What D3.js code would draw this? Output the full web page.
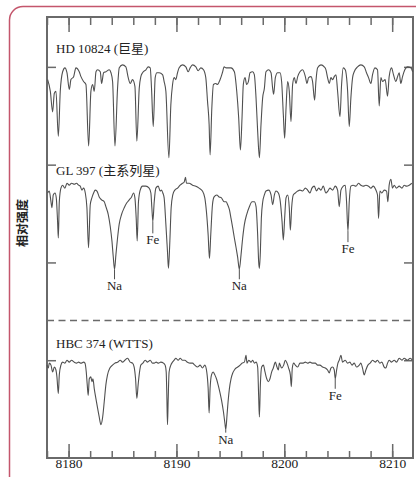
<!DOCTYPE html>
<html>
<head>
<meta charset="utf-8">
<script src="https://cdn.jsdelivr.net/npm/d3@7"></script>
<style>
  html, body { margin: 0; padding: 0; background: #fff; }
  svg { display: block; }
  .serif { font-family: "Liberation Serif", "Noto Sans CJK SC", serif; fill: #222; }
</style>
</head>
<body>
<div id="chart"></div>
<script>
// spectra: [wavelength (Å), relative intensity incl. offset]
const hd10824 = [
  [8178.06,3.87],[8178.31,3.75],[8178.52,3.54],[8178.68,3.73],[8178.83,3.75],[8179.05,3.29],[8179.23,3.75],
  [8179.45,3.95],[8179.66,3.99],[8179.85,3.94],[8180.07,3.77],[8180.22,3.87],[8180.47,3.90],[8180.68,3.99],
  [8180.99,3.95],[8181.15,3.90],[8181.39,3.85],[8181.61,3.82],[8181.86,3.19],[8182.07,3.75],[8182.23,3.82],
  [8182.38,3.75],[8182.54,3.95],[8182.69,3.97],[8182.94,3.95],[8183.06,3.83],[8183.25,3.94],[8183.46,3.95],
  [8183.77,3.97],[8183.93,3.94],[8184.08,3.85],[8184.30,3.19],[8184.54,3.78],[8184.70,3.99],[8185.00,4.02],
  [8185.31,4.00],[8185.53,3.89],[8185.72,3.83],[8185.93,3.87],[8186.15,3.80],[8186.33,3.24],[8186.55,3.78],
  [8186.70,3.90],[8186.86,3.94],[8187.17,3.97],[8187.38,4.00],[8187.57,3.99],[8187.69,3.78],[8187.85,3.39],
  [8188.03,3.89],[8188.19,3.94],[8188.40,3.94],[8188.71,3.92],[8188.86,3.85],[8189.02,3.75],[8189.30,3.07],
  [8189.48,3.61],[8189.64,3.82],[8189.79,3.89],[8189.94,3.87],[8190.10,3.94],[8190.25,3.99],[8190.56,4.02],
  [8190.87,4.00],[8191.09,3.95],[8191.27,3.99],[8191.49,4.02],[8191.80,4.00],[8192.01,3.96],[8192.26,3.99],
  [8192.51,3.97],[8192.72,3.89],[8192.88,3.65],[8193.03,3.41],[8193.12,3.10],[8193.28,3.58],[8193.43,3.82],
  [8193.65,3.83],[8193.80,3.82],[8194.05,3.87],[8194.26,3.94],[8194.42,4.00],[8194.60,3.99],[8195.06,3.99],
  [8195.37,3.95],[8195.59,3.75],[8195.77,3.48],[8195.93,3.15],[8196.08,3.48],[8196.20,3.82],[8196.36,3.89],
  [8196.51,3.82],[8196.67,3.85],[8196.82,3.94],[8197.07,3.95],[8197.22,3.92],[8197.38,3.68],[8197.53,3.34],
  [8197.69,3.07],[8197.84,3.41],[8197.99,3.68],[8198.15,3.78],[8198.30,3.95],[8198.55,3.97],[8198.77,3.94],
  [8198.92,3.78],[8199.01,3.72],[8199.17,3.89],[8199.38,3.94],[8199.60,3.94],[8199.75,3.85],[8199.91,3.51],
  [8200.03,3.27],[8200.16,3.58],[8200.31,3.85],[8200.46,3.75],[8200.62,3.44],[8200.77,3.82],[8200.93,3.89],
  [8201.08,3.83],[8201.24,3.90],[8201.45,3.95],[8201.70,3.97],[8201.95,3.90],[8202.10,3.83],[8202.25,3.89],
  [8202.47,3.90],[8202.62,3.85],[8202.81,3.66],[8202.93,3.85],[8203.09,3.99],[8203.40,4.02],[8203.70,4.00],
  [8203.86,3.97],[8204.01,3.89],[8204.17,3.83],[8204.32,3.89],[8204.48,3.87],[8204.63,3.90],[8204.79,3.92],
  [8204.94,3.75],[8205.16,3.49],[8205.31,3.82],[8205.46,3.99],[8205.65,3.97],[8205.87,3.75],[8206.02,3.39],
  [8206.17,3.68],[8206.33,3.89],[8206.48,3.95],[8206.79,4.00],[8207.10,4.02],[8207.41,4.00],[8207.62,3.94],
  [8207.81,3.89],[8208.03,3.83],[8208.18,3.92],[8208.40,3.99],[8208.64,3.97],[8208.80,3.60],[8208.95,3.89],
  [8209.11,3.85],[8209.35,3.87],[8209.57,3.70],[8209.72,3.90],[8209.94,3.99],[8210.12,3.92],[8210.34,3.85],
  [8210.50,3.90],[8210.65,3.94],[8210.80,3.83],[8210.96,3.90],[8211.17,3.97],[8211.42,4.00],[8211.73,3.99],
  [8211.90,3.95]
];

const gl397 = [
  [8178.06,2.71],[8178.21,2.73],[8178.37,2.62],[8178.46,2.56],[8178.58,2.69],[8178.74,2.71],[8178.86,2.66],
  [8178.98,2.42],[8179.05,2.25],[8179.14,2.62],[8179.29,2.76],[8179.45,2.79],[8179.66,2.76],[8179.85,2.81],
  [8180.06,2.79],[8180.28,2.81],[8180.53,2.80],[8180.74,2.81],[8180.93,2.79],[8181.08,2.78],[8181.24,2.74],
  [8181.39,2.76],[8181.55,2.71],[8181.70,2.56],[8181.85,2.15],[8182.01,2.59],[8182.16,2.66],[8182.32,2.71],
  [8182.47,2.74],[8182.63,2.73],[8182.84,2.67],[8183.06,2.64],[8183.31,2.62],[8183.46,2.57],[8183.68,2.49],
  [8183.86,2.37],[8184.02,2.22],[8184.14,2.06],[8184.26,1.93],[8184.39,2.08],[8184.54,2.25],[8184.69,2.39],
  [8184.91,2.49],[8185.16,2.56],[8185.40,2.61],[8185.62,2.64],[8185.84,2.67],[8186.02,2.71],[8186.15,2.66],
  [8186.27,2.45],[8186.36,2.22],[8186.48,2.62],[8186.64,2.74],[8186.85,2.78],[8187.16,2.78],[8187.47,2.76],
  [8187.63,2.71],[8187.72,2.56],[8187.81,2.42],[8187.94,2.62],[8188.09,2.76],[8188.31,2.78],[8188.49,2.73],
  [8188.61,2.74],[8188.74,2.71],[8188.86,2.66],[8189.02,2.39],[8189.17,2.11],[8189.26,1.94],[8189.39,2.22],
  [8189.51,2.56],[8189.66,2.69],[8189.85,2.74],[8190.10,2.76],[8190.34,2.79],[8190.56,2.81],[8190.71,2.82],
  [8190.84,2.87],[8190.93,2.81],[8191.18,2.81],[8191.49,2.79],[8191.80,2.78],[8192.10,2.76],[8192.41,2.73],
  [8192.63,2.66],[8192.78,2.52],[8192.94,2.28],[8193.06,2.04],[8193.18,2.28],[8193.34,2.59],[8193.49,2.67],
  [8193.74,2.69],[8193.96,2.67],[8194.17,2.66],[8194.42,2.62],[8194.60,2.62],[8194.75,2.59],[8194.91,2.54],
  [8195.06,2.45],[8195.22,2.35],[8195.37,2.25],[8195.53,2.15],[8195.68,2.05],[8195.83,1.93],[8195.99,2.08],
  [8196.14,2.25],[8196.30,2.39],[8196.51,2.49],[8196.76,2.57],[8197.01,2.62],[8197.22,2.62],[8197.38,2.57],
  [8197.53,2.28],[8197.62,2.01],[8197.69,1.94],[8197.78,2.11],[8197.87,2.45],[8198.00,2.62],[8198.15,2.69],
  [8198.30,2.73],[8198.55,2.74],[8198.77,2.69],[8198.92,2.59],[8199.08,2.69],[8199.23,2.73],[8199.45,2.71],
  [8199.63,2.62],[8199.79,2.42],[8199.91,2.23],[8200.03,2.45],[8200.16,2.66],[8200.31,2.69],[8200.46,2.56],
  [8200.56,2.33],[8200.68,2.56],[8200.83,2.69],[8201.02,2.71],[8201.24,2.73],[8201.45,2.74],[8201.70,2.73],
  [8201.95,2.76],[8202.16,2.74],[8202.38,2.71],[8202.56,2.76],[8202.78,2.78],[8202.99,2.73],[8203.18,2.76],
  [8203.40,2.74],[8203.61,2.78],[8203.86,2.71],[8204.04,2.73],[8204.23,2.76],[8204.48,2.74],[8204.72,2.78],
  [8204.94,2.74],[8205.09,2.57],[8205.25,2.74],[8205.46,2.78],[8205.65,2.79],[8205.77,2.62],[8205.90,2.32],
  [8206.02,2.62],[8206.17,2.78],[8206.39,2.79],[8206.64,2.78],[8206.88,2.81],[8207.10,2.79],[8207.32,2.78],
  [8207.56,2.79],[8207.81,2.78],[8208.03,2.76],[8208.24,2.78],[8208.49,2.74],[8208.64,2.69],[8208.74,2.45],
  [8208.86,2.73],[8209.04,2.71],[8209.26,2.74],[8209.48,2.73],[8209.60,2.62],[8209.72,2.79],[8209.88,2.85],
  [8210.03,2.76],[8210.19,2.79],[8210.40,2.76],[8210.65,2.78],[8210.90,2.76],[8211.11,2.79],[8211.33,2.78],
  [8211.58,2.79],[8211.82,2.81]
];

const hbc374 = [
  [8178.00,0.95],[8178.12,0.92],[8178.21,0.97],[8178.37,0.95],[8178.52,0.88],[8178.68,0.93],[8178.83,0.90],
  [8178.92,0.83],[8179.05,0.66],[8179.14,0.85],[8179.29,0.95],[8179.45,0.98],[8179.66,0.97],[8179.85,1.00],
  [8180.06,0.98],[8180.28,1.00],[8180.53,0.98],[8180.74,0.97],[8180.93,0.98],[8181.15,0.97],[8181.39,0.98],
  [8181.52,0.97],[8181.64,0.88],[8181.73,0.75],[8181.82,0.64],[8181.92,0.81],[8182.07,0.83],[8182.16,0.78],
  [8182.26,0.81],[8182.38,0.71],[8182.53,0.61],[8182.69,0.51],[8182.84,0.42],[8183.00,0.34],[8183.15,0.41],
  [8183.31,0.58],[8183.46,0.75],[8183.61,0.85],[8183.83,0.92],[8184.08,0.95],[8184.29,0.97],[8184.54,0.98],
  [8184.79,1.00],[8185.00,0.98],[8185.22,1.00],[8185.47,1.02],[8185.71,0.98],[8185.93,0.97],[8186.08,0.93],
  [8186.21,0.81],[8186.33,0.61],[8186.45,0.75],[8186.58,0.88],[8186.70,0.95],[8186.89,0.97],[8187.10,1.00],
  [8187.32,0.98],[8187.57,1.00],[8187.78,0.97],[8187.94,0.97],[8188.12,0.98],[8188.34,0.97],[8188.55,0.98],
  [8188.80,0.97],[8188.95,0.95],[8189.05,0.88],[8189.11,0.64],[8189.17,0.34],[8189.23,0.58],[8189.32,0.88],
  [8189.48,0.95],[8189.63,0.98],[8189.79,1.00],[8189.94,1.02],[8190.16,1.00],[8190.35,1.02],[8190.56,1.00],
  [8190.78,1.00],[8191.02,0.98],[8191.27,0.97],[8191.49,0.97],[8191.70,0.95],[8191.95,0.93],[8192.20,0.95],
  [8192.41,0.92],[8192.63,0.95],[8192.81,0.88],[8192.94,0.71],[8193.03,0.46],[8193.12,0.71],[8193.25,0.85],
  [8193.40,0.88],[8193.56,0.85],[8193.71,0.81],[8193.86,0.75],[8194.05,0.66],[8194.20,0.58],[8194.36,0.47],
  [8194.51,0.34],[8194.57,0.29],[8194.69,0.44],[8194.79,0.58],[8194.91,0.71],[8195.06,0.81],[8195.22,0.87],
  [8195.37,0.90],[8195.53,0.92],[8195.68,0.93],[8195.90,0.95],[8196.08,0.97],[8196.30,0.98],[8196.45,1.05],
  [8196.54,0.97],[8196.70,1.00],[8196.91,0.98],[8197.07,1.00],[8197.22,0.97],[8197.38,0.98],[8197.53,0.93],
  [8197.62,0.64],[8197.69,0.42],[8197.78,0.75],[8197.90,0.93],[8198.06,0.95],[8198.21,0.88],[8198.37,0.81],
  [8198.52,0.78],[8198.67,0.81],[8198.83,0.88],[8198.98,0.92],[8199.17,0.98],[8199.32,0.93],[8199.45,0.90],
  [8199.54,0.97],[8199.75,0.92],[8199.94,0.95],[8200.09,1.00],[8200.25,0.97],[8200.40,0.92],[8200.56,0.85],
  [8200.65,0.73],[8200.74,0.92],[8200.87,0.97],[8201.02,0.95],[8201.24,0.93],[8201.45,0.97],[8201.70,0.97],
  [8201.95,0.98],[8202.16,0.97],[8202.38,0.98],[8202.62,0.97],[8202.87,0.97],[8203.09,0.95],[8203.30,0.95],
  [8203.55,0.93],[8203.80,0.92],[8204.01,0.90],[8204.17,0.87],[8204.32,0.92],[8204.48,0.93],[8204.63,0.90],
  [8204.72,0.81],[8204.85,0.90],[8204.97,0.97],[8205.09,1.00],[8205.25,1.05],[8205.40,0.98],[8205.65,1.00],
  [8205.87,0.97],[8206.08,0.98],[8206.27,0.95],[8206.48,0.97],[8206.70,0.93],[8206.95,0.95],[8207.10,0.97],
  [8207.25,0.92],[8207.41,0.85],[8207.56,0.90],[8207.75,0.95],[8207.96,0.97],[8208.18,1.00],[8208.43,0.98],
  [8208.64,1.00],[8208.86,0.97],[8209.04,0.98],[8209.26,0.93],[8209.41,0.92],[8209.57,0.97],[8209.72,1.00],
  [8209.94,0.98],[8210.19,1.00],[8210.40,0.98],[8210.65,1.02],[8210.90,1.00],[8211.11,1.02],[8211.42,1.00],
  [8211.67,1.02],[8211.88,1.00]
];

const starNames = ["HD 10824 (巨星)", "GL 397 (主系列星)", "HBC 374 (WTTS)"];
const spectra = [hd10824, gl397, hbc374];

// line identifications: element, wavelength, which spectrum
const lineIds = ["Na", "Fe", "Na", "Fe", "Na", "Fe"];
const lineWaves = [8184.26, 8187.81, 8195.83, 8205.90, 8194.57, 8204.72];
const lineStar = [1, 1, 1, 1, 2, 2];

const xMajorTicks = [8180, 8190, 8200, 8210];
const xMinorTicks = d3.range(8178, 8212, 2);
const yTicks = [1, 2, 3, 4];

const width = 416, height = 477;
const margin = { top: 17, right: 3, bottom: 19, left: 47 };

const x = d3.scaleLinear().domain([8178, 8211.93]).range([margin.left, width - margin.right]);
const y = d3.scaleLinear().domain([0, 4.51]).range([height - margin.bottom, margin.top]);

const svg = d3.select("#chart").append("svg")
    .attr("width", width)
    .attr("height", height);

// pink frame round the figure
svg.append("path")
    .attr("d", "M416,6.5 H23 A13.5,13.5 0 0 0 9.5,20 V477")
    .attr("fill", "none")
    .attr("stroke", "#c4566c")
    .attr("stroke-width", 1.5);

// axes with inward ticks
function styleAxis(g) {
    g.select(".domain").remove();
    g.selectAll(".tick line").attr("stroke", "#6a6a6a").attr("stroke-width", 1.5);
    g.selectAll(".tick text")
        .attr("class", "serif")
        .attr("font-size", 13.5)
        .attr("fill", "#222");
}

const xb = y.range()[0], xt = y.range()[1];
svg.append("g").attr("transform", `translate(0,${xb})`)
    .call(d3.axisBottom(x).tickValues(xMinorTicks).tickSize(-7).tickFormat(""))
    .call(styleAxis);
svg.append("g").attr("transform", `translate(0,${xb})`)
    .call(d3.axisBottom(x).tickValues(xMajorTicks).tickSizeInner(-14).tickFormat(d3.format("d")))
    .call(styleAxis)
    .selectAll("text").attr("dy", null).attr("y", 9.5);
svg.append("g").attr("transform", `translate(0,${xt})`)
    .call(d3.axisTop(x).tickValues(xMinorTicks).tickSize(-8).tickFormat(""))
    .call(styleAxis);
svg.append("g").attr("transform", `translate(0,${xt})`)
    .call(d3.axisTop(x).tickValues(xMajorTicks).tickSize(-15).tickFormat(""))
    .call(styleAxis);
svg.append("g").attr("transform", `translate(${x.range()[0]},0)`)
    .call(d3.axisLeft(y).tickValues(yTicks).tickSize(-9).tickFormat(""))
    .call(styleAxis);
svg.append("g").attr("transform", `translate(${x.range()[1]},0)`)
    .call(d3.axisRight(y).tickValues(yTicks).tickSize(-9).tickFormat(""))
    .call(styleAxis);

// frame of the plot
svg.append("rect")
    .attr("x", x.range()[0])
    .attr("y", y.range()[1])
    .attr("width", x.range()[1] - x.range()[0])
    .attr("height", y.range()[0] - y.range()[1])
    .attr("fill", "none")
    .attr("stroke", "#6a6a6a")
    .attr("stroke-width", 2);

// dashed divider between the dwarfs and the WTTS
svg.append("line")
    .attr("x1", x.range()[0]).attr("x2", x.range()[1])
    .attr("y1", y(1.405)).attr("y2", y(1.405))
    .attr("stroke", "#6a6a6a")
    .attr("stroke-width", 1.5)
    .attr("stroke-dasharray", "7,4.5");

const line = d3.line()
    .x(d => x(d[0]))
    .y(d => y(d[1]))
    .curve(d3.curveMonotoneX);

svg.selectAll("path.spec")
    .data(spectra)
    .enter().append("path")
    .attr("class", "spec")
    .attr("d", line)
    .attr("fill", "none")
    .attr("stroke", "#505050")
    .attr("stroke-width", 1.1)
    .attr("stroke-linejoin", "round");

// star names, placed a little above each continuum
const nameLevels = [4.14, 2.895, 1.128];
svg.selectAll("text.name")
    .data(starNames)
    .enter().append("text")
    .attr("class", "serif name")
    .attr("x", 56)
    .attr("y", (d, i) => y(nameLevels[i]))
    .attr("font-size", 13)
    .text(d => d);

// line identifications under the dips
function dipOf(i) {
    const s = spectra[lineStar[i]];
    return s.reduce((a, b) => Math.abs(b[0] - lineWaves[i]) < Math.abs(a[0] - lineWaves[i]) ? b : a);
}
const labelDrop = [21, 23, 21, 22, 14, 21];
lineIds.forEach((id, i) => {
    const dip = dipOf(i);
    const cx = x(dip[0]);
    const dy = y(dip[1]);
    const by = dy + labelDrop[i];
    svg.append("line")
        .attr("x1", cx).attr("x2", cx)
        .attr("y1", dy).attr("y2", by - 11)
        .attr("stroke", "#505050")
        .attr("stroke-width", 1);
    svg.append("text")
        .attr("class", "serif")
        .attr("x", cx)
        .attr("y", by)
        .attr("text-anchor", "middle")
        .attr("font-size", 13)
        .text(id);
});

// y axis title
svg.append("text")
    .attr("transform", "translate(26.5,223) rotate(-90)")
    .attr("text-anchor", "middle")
    .attr("font-family", "'Noto Sans CJK SC', sans-serif")
    .attr("font-weight", "bold")
    .attr("font-size", 12)
    .attr("fill", "#222")
    .text("相对强度");
</script>
</body>
</html>
